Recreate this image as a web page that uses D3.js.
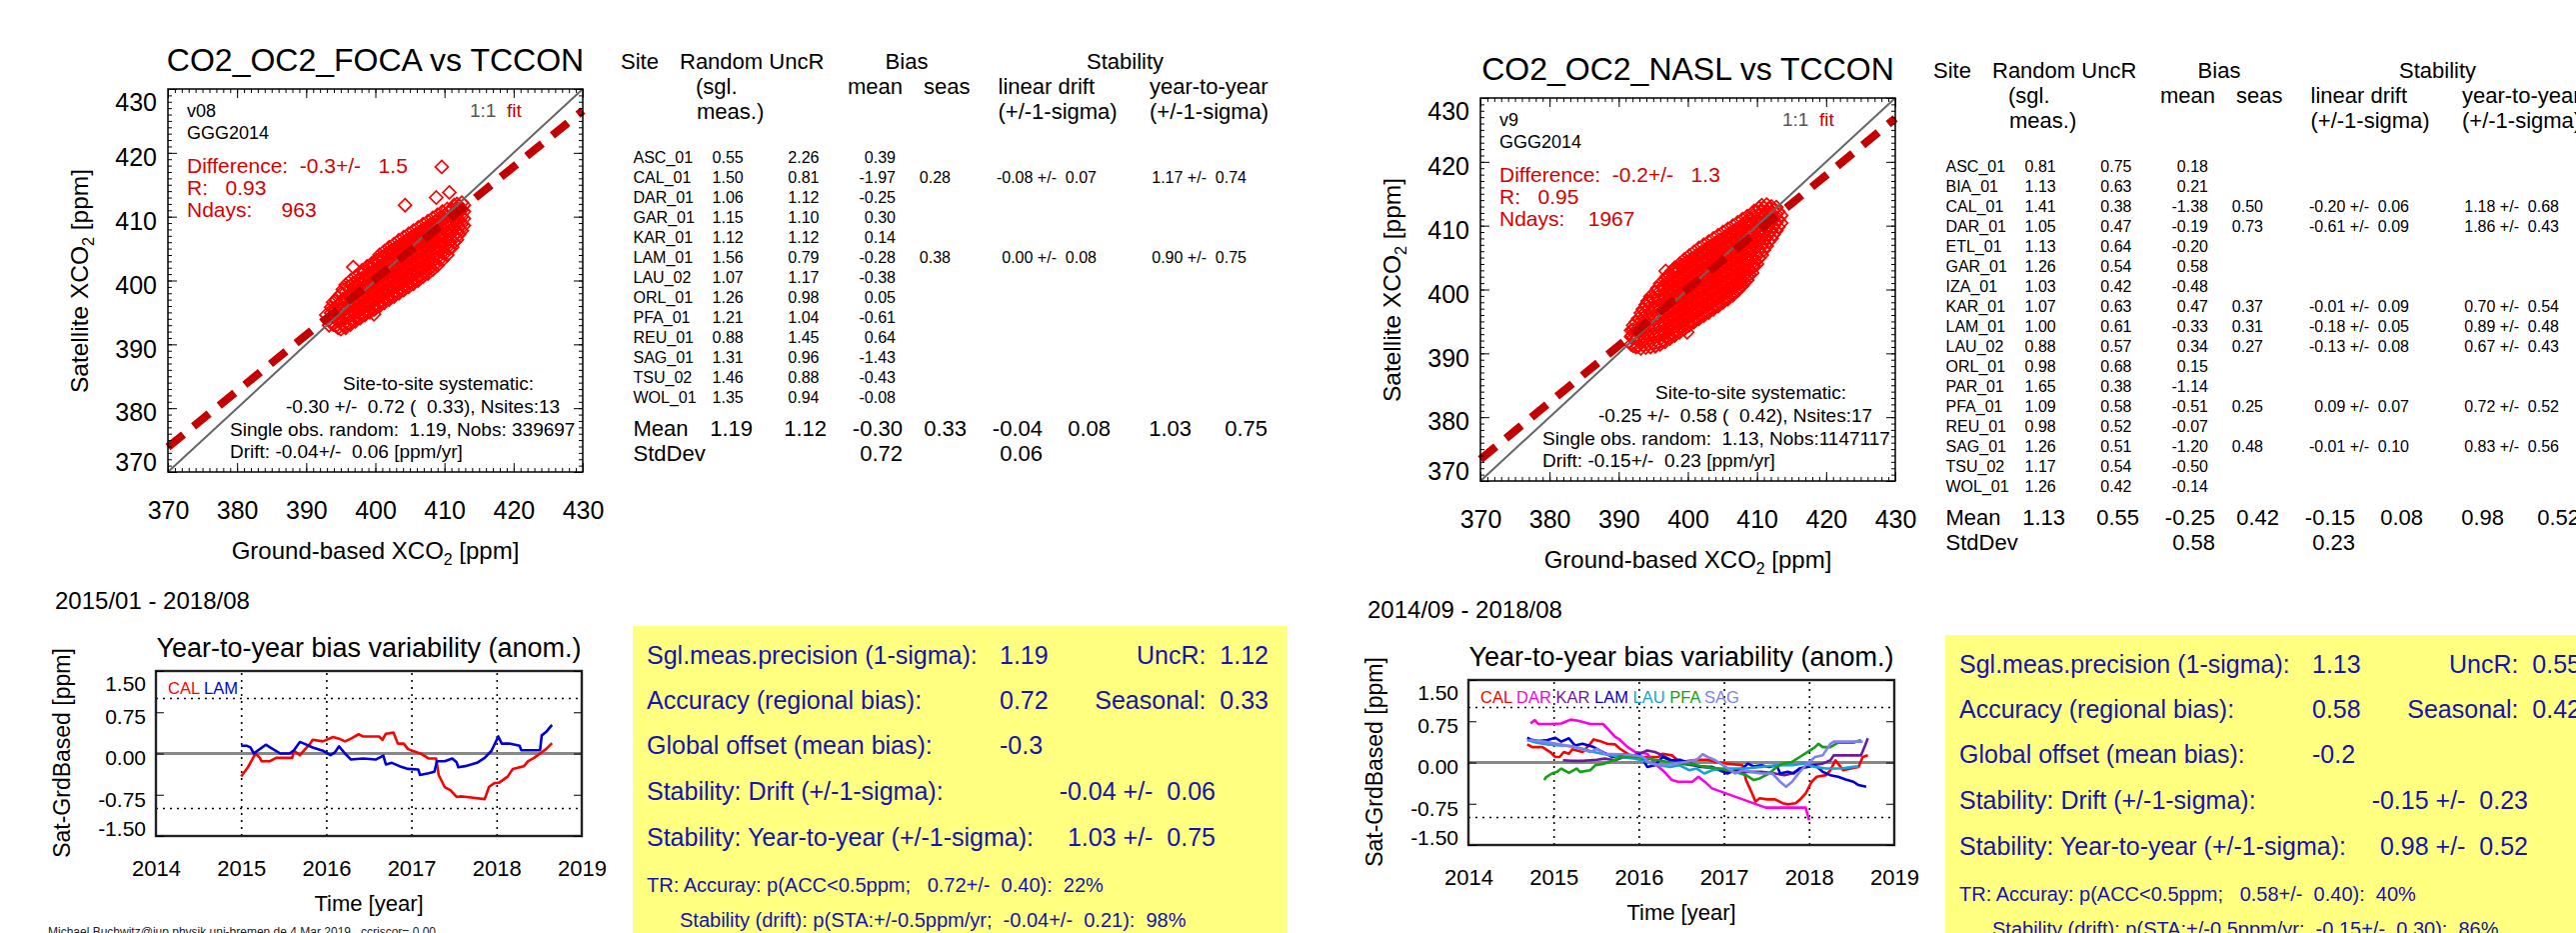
<!DOCTYPE html>
<html>
<head>
<meta charset="utf-8">
<script src="https://cdn.jsdelivr.net/npm/d3@7"></script>
<style>
  body { margin: 0; background: #fff; }
  svg text { font-family: "Liberation Sans", Arial, Helvetica, sans-serif; white-space: pre; }
</style>
</head>
<body>
<svg id="chart" width="2577" height="933"></svg>
<script>
// ---------- shared axis values ----------
const xcoTicks = [370, 380, 390, 400, 410, 420, 430];
const yearTicks = [2014, 2015, 2016, 2017, 2018, 2019];
const biasTicks = [-1.5, -0.75, 0, 0.75, 1.5];
const dottedLevels = [-1, 1];

// ---------- left page: CO2_OC2_FOCA ----------
const focaTitle = "CO2_OC2_FOCA vs TCCON";
const focaVersion = "v08";
const focaPeriod = "2015/01 - 2018/08";
// satellite vs ground XCO2: [ground, [satellite values]]
const focaCloud = [
  [393.6, [393.4, 394.9, 395.8]],
  [393.9, [393.1, 394.3, 395.6, 396.6]],
  [394.3, [392.9, 394.0, 395.4, 396.9]],
  [394.6, [392.6, 393.9, 394.9, 396.1, 397.4]],
  [395.0, [392.4, 393.6, 395.2, 396.6, 397.9]],
  [395.3, [393.0, 394.4, 395.7, 397.1, 398.6]],
  [395.7, [392.8, 394.1, 395.5, 396.9, 398.2, 399.3]],
  [396.0, [393.3, 394.8, 396.2, 397.6, 399.0]],
  [396.4, [393.1, 394.5, 395.9, 397.3, 398.6, 400.0]],
  [396.7, [393.8, 395.2, 396.6, 398.0, 399.5]],
  [397.1, [393.6, 394.9, 396.3, 397.8, 399.1, 400.6]],
  [397.4, [394.3, 395.7, 397.0, 398.5, 400.0]],
  [397.8, [394.1, 395.4, 396.8, 398.2, 399.6, 401.1]],
  [398.1, [394.8, 396.1, 397.5, 398.9, 400.4, 401.6]],
  [398.5, [394.6, 395.9, 397.3, 398.7, 400.1, 401.5]],
  [398.8, [395.2, 396.6, 398.0, 399.4, 400.8, 402.2]],
  [399.2, [395.0, 396.4, 397.8, 399.2, 400.6, 402.0]],
  [399.5, [395.7, 397.1, 398.5, 399.9, 401.3, 402.7]],
  [399.9, [395.5, 396.9, 398.3, 399.7, 401.1, 402.5]],
  [400.2, [396.2, 397.6, 399.0, 400.4, 401.8, 403.2]],
  [400.6, [396.0, 397.4, 398.8, 400.2, 401.6, 403.0, 404.0]],
  [400.9, [396.7, 398.1, 399.5, 400.9, 402.3, 403.7]],
  [401.3, [396.5, 397.9, 399.3, 400.7, 402.1, 403.5, 404.6]],
  [401.6, [397.2, 398.6, 400.0, 401.4, 402.8, 404.2]],
  [402.0, [397.0, 398.4, 399.8, 401.2, 402.6, 404.0, 405.2]],
  [402.3, [397.7, 399.1, 400.5, 401.9, 403.3, 404.7]],
  [402.7, [397.5, 398.9, 400.3, 401.7, 403.1, 404.5, 405.7]],
  [403.0, [398.2, 399.6, 401.0, 402.4, 403.8, 405.2]],
  [403.4, [398.0, 399.4, 400.8, 402.2, 403.6, 405.0, 406.3]],
  [403.7, [398.7, 400.1, 401.5, 402.9, 404.3, 405.7]],
  [404.1, [398.5, 399.9, 401.3, 402.7, 404.1, 405.5, 406.8]],
  [404.4, [399.2, 400.6, 402.0, 403.4, 404.8, 406.2]],
  [404.8, [399.0, 400.4, 401.8, 403.2, 404.6, 406.0, 407.3]],
  [405.1, [399.7, 401.1, 402.5, 403.9, 405.3, 406.7]],
  [405.5, [399.5, 400.9, 402.3, 403.7, 405.1, 406.5, 407.8]],
  [405.8, [400.2, 401.6, 403.0, 404.4, 405.8, 407.2]],
  [406.2, [400.0, 401.4, 402.8, 404.2, 405.6, 407.0, 408.3]],
  [406.5, [400.7, 402.1, 403.5, 404.9, 406.3, 407.7]],
  [406.9, [400.6, 401.9, 403.3, 404.7, 406.1, 407.5, 408.8]],
  [407.2, [401.3, 402.6, 404.0, 405.4, 406.8, 408.2]],
  [407.6, [401.1, 402.4, 403.8, 405.2, 406.6, 408.0, 409.3]],
  [407.9, [401.9, 403.1, 404.5, 405.9, 407.3, 408.7]],
  [408.3, [401.7, 403.0, 404.3, 405.7, 407.1, 408.5, 409.8]],
  [408.6, [402.5, 403.8, 405.0, 406.4, 407.8, 409.2]],
  [409.0, [402.4, 403.6, 404.9, 406.2, 407.6, 409.0, 410.3]],
  [409.3, [403.3, 404.5, 405.7, 407.0, 408.4, 409.8]],
  [409.7, [403.2, 404.4, 405.6, 406.9, 408.2, 409.5, 410.8]],
  [410.0, [404.2, 405.3, 406.5, 407.7, 408.9, 410.2]],
  [410.4, [404.0, 405.2, 406.4, 407.6, 408.8, 410.0, 411.2]],
  [410.7, [405.0, 406.1, 407.3, 408.5, 409.7, 410.9]],
  [411.1, [405.2, 406.3, 407.5, 408.7, 409.9, 411.1]],
  [411.4, [406.0, 407.1, 408.3, 409.5, 410.7, 411.8]],
  [411.8, [406.4, 407.5, 408.6, 409.8, 411.0, 412.0]],
  [412.1, [407.2, 408.3, 409.4, 410.6, 411.7]],
  [412.5, [407.8, 408.9, 410.0, 411.1, 412.2]],
  [412.8, [408.6, 409.7, 410.8, 411.8]]
];
const focaOutliers = [[409.6, 417.8], [410.7, 413.8], [408.8, 413.0], [404.3, 411.8], [396.8, 402.1],
                      [395.7, 392.6], [399.8, 394.7], [392.9, 394.6], [393.3, 393.0]];
const focaFit = [[370, 373.9], [430, 426.6]];
const focaStats = {diff: -0.3, diffSd: 1.5, r: 0.93, ndays: 963, siteBias: -0.30, siteSd: 0.72, siteSeas: 0.33,
                   nsites: 13, random: 1.19, nobs: 339697, drift: -0.04, driftErr: 0.06};

const focaSites  = ["ASC_01", "CAL_01", "DAR_01", "GAR_01", "KAR_01", "LAM_01", "LAU_02", "ORL_01", "PFA_01", "REU_01", "SAG_01", "TSU_02", "WOL_01"];
const focaRandom = [0.55, 1.50, 1.06, 1.15, 1.12, 1.56, 1.07, 1.26, 1.21, 0.88, 1.31, 1.46, 1.35];
const focaUncR   = [2.26, 0.81, 1.12, 1.10, 1.12, 0.79, 1.17, 0.98, 1.04, 1.45, 0.96, 0.88, 0.94];
const focaBias   = [0.39, -1.97, -0.25, 0.30, 0.14, -0.28, -0.38, 0.05, -0.61, 0.64, -1.43, -0.43, -0.08];
const focaSeas   = {CAL_01: 0.28, LAM_01: 0.38};
const focaDrift  = {CAL_01: [-0.08, 0.07], LAM_01: [0.00, 0.08]};
const focaY2Y    = {CAL_01: [1.17, 0.74], LAM_01: [0.90, 0.75]};
const focaMean   = [1.19, 1.12, -0.30, 0.33, -0.04, 0.08, 1.03, 0.75];
const focaStd    = [null, null, 0.72, null, 0.06, null, null, null];

const focaCal = [[2015.00,-0.42],[2015.08,-0.25],[2015.17,0.00],[2015.22,-0.08],[2015.24,-0.14],[2015.34,-0.14],[2015.41,-0.08],
  [2015.60,-0.08],[2015.62,0.05],[2015.69,-0.03],[2015.81,0.18],[2015.84,0.25],[2015.96,0.22],[2016.08,0.30],[2016.15,0.27],
  [2016.22,0.22],[2016.29,0.27],[2016.38,0.35],[2016.43,0.31],[2016.62,0.31],[2016.66,0.25],[2016.70,0.36],[2016.79,0.38],
  [2016.84,0.18],[2016.91,0.18],[2016.96,0.08],[2017.12,-0.01],[2017.20,-0.09],[2017.29,-0.09],[2017.32,-0.39],[2017.39,-0.61],
  [2017.46,-0.67],[2017.53,-0.79],[2017.58,-0.78],[2017.65,-0.79],[2017.86,-0.83],[2017.91,-0.61],[2017.97,-0.54],[2018.03,-0.53],
  [2018.13,-0.42],[2018.19,-0.28],[2018.32,-0.23],[2018.37,-0.14],[2018.44,-0.08],[2018.51,0.00],[2018.58,0.08],[2018.65,0.19]];
const focaLam = [[2015.00,0.14],[2015.07,0.14],[2015.11,0.11],[2015.15,0.00],[2015.29,0.16],[2015.34,0.11],[2015.46,0.00],
  [2015.57,0.00],[2015.62,0.06],[2015.69,0.21],[2015.74,0.18],[2015.84,0.11],[2015.96,0.05],[2016.05,-0.03],[2016.10,0.02],
  [2016.15,0.13],[2016.22,0.00],[2016.29,-0.11],[2016.43,-0.09],[2016.58,-0.11],[2016.67,-0.04],[2016.70,-0.20],[2016.77,-0.17],
  [2016.86,-0.23],[2016.96,-0.28],[2017.08,-0.29],[2017.10,-0.39],[2017.20,-0.36],[2017.27,-0.33],[2017.30,-0.14],[2017.39,-0.14],
  [2017.48,-0.09],[2017.53,-0.16],[2017.55,-0.25],[2017.63,-0.23],[2017.77,-0.17],[2017.86,-0.08],[2017.94,0.05],[2018.02,0.31],
  [2018.06,0.18],[2018.15,0.18],[2018.27,0.14],[2018.29,0.06],[2018.51,0.06],[2018.53,0.33],[2018.58,0.39],[2018.65,0.52]];

const focaSummary = {precision: 1.19, uncR: 1.12, accuracy: 0.72, seasonal: 0.33, offset: -0.3,
                     drift: [-0.04, 0.06], y2y: [1.03, 0.75]};
const focaTR = {acc: [0.72, 0.40, 22], sta: [-0.04, 0.21, 98]};

// ---------- right page: CO2_OC2_NASL ----------
const naslTitle = "CO2_OC2_NASL vs TCCON";
const naslVersion = "v9";
const naslPeriod = "2014/09 - 2018/08";
const naslCloud = [
  [391.8, [391.4, 392.6, 393.6]],
  [392.1, [391.2, 392.4, 393.7, 394.4]],
  [392.5, [391.0, 392.3, 393.6, 394.9]],
  [392.8, [391.1, 392.5, 393.9, 395.4]],
  [393.2, [390.8, 392.2, 393.6, 395.0, 396.3]],
  [393.5, [391.3, 392.7, 394.1, 395.5, 396.9]],
  [393.9, [390.9, 392.3, 393.7, 395.1, 396.5, 397.6]],
  [394.2, [391.4, 392.8, 394.2, 395.6, 397.0, 398.2]],
  [394.6, [391.0, 392.4, 393.8, 395.2, 396.6, 398.0, 398.9]],
  [394.9, [391.6, 393.0, 394.4, 395.8, 397.2, 398.6]],
  [395.3, [391.2, 392.6, 394.0, 395.4, 396.8, 398.2, 399.6]],
  [395.6, [391.8, 393.2, 394.6, 396.0, 397.4, 398.8, 400.2]],
  [396.0, [391.4, 392.8, 394.2, 395.6, 397.0, 398.4, 399.8, 400.9]],
  [396.3, [392.0, 393.4, 394.8, 396.2, 397.6, 399.0, 400.4]],
  [396.7, [391.8, 393.2, 394.6, 396.0, 397.4, 398.8, 400.2, 401.6]],
  [397.0, [392.5, 393.9, 395.3, 396.7, 398.1, 399.5, 400.9, 402.1]],
  [397.4, [392.3, 393.7, 395.1, 396.5, 397.9, 399.3, 400.7, 402.1]],
  [397.7, [393.0, 394.4, 395.8, 397.2, 398.6, 400.0, 401.4, 402.9]],
  [398.1, [392.8, 394.2, 395.6, 397.0, 398.4, 399.8, 401.2, 402.6, 403.4]],
  [398.4, [393.5, 394.9, 396.3, 397.7, 399.1, 400.5, 401.9, 403.3]],
  [398.8, [393.3, 394.7, 396.1, 397.5, 398.9, 400.3, 401.7, 403.1, 404.0]],
  [399.1, [394.0, 395.4, 396.8, 398.2, 399.6, 401.0, 402.4, 403.8]],
  [399.5, [393.8, 395.2, 396.6, 398.0, 399.4, 400.8, 402.2, 403.6, 404.7]],
  [399.8, [394.5, 395.9, 397.3, 398.7, 400.1, 401.5, 402.9, 404.3]],
  [400.2, [394.4, 395.7, 397.1, 398.5, 399.9, 401.3, 402.7, 404.1, 405.3]],
  [400.5, [395.0, 396.4, 397.8, 399.2, 400.6, 402.0, 403.4, 404.8]],
  [400.9, [394.9, 396.2, 397.6, 399.0, 400.4, 401.8, 403.2, 404.6, 405.9]],
  [401.2, [395.5, 396.9, 398.3, 399.7, 401.1, 402.5, 403.9, 405.3]],
  [401.6, [395.4, 396.7, 398.1, 399.5, 400.9, 402.3, 403.7, 405.1, 406.5]],
  [401.9, [396.0, 397.4, 398.8, 400.2, 401.6, 403.0, 404.4, 405.8]],
  [402.3, [395.9, 397.2, 398.6, 400.0, 401.4, 402.8, 404.2, 405.6, 407.0]],
  [402.6, [396.5, 397.9, 399.3, 400.7, 402.1, 403.5, 404.9, 406.3]],
  [403.0, [396.4, 397.7, 399.1, 400.5, 401.9, 403.3, 404.7, 406.1, 407.5]],
  [403.3, [397.0, 398.4, 399.8, 401.2, 402.6, 404.0, 405.4, 406.8]],
  [403.7, [396.9, 398.2, 399.6, 401.0, 402.4, 403.8, 405.2, 406.6, 408.0]],
  [404.0, [397.5, 398.9, 400.3, 401.7, 403.1, 404.5, 405.9, 407.3]],
  [404.4, [397.4, 398.7, 400.1, 401.5, 402.9, 404.3, 405.7, 407.1, 408.5]],
  [404.7, [398.0, 399.4, 400.8, 402.2, 403.6, 405.0, 406.4, 407.8]],
  [405.1, [398.0, 399.2, 400.6, 402.0, 403.4, 404.8, 406.2, 407.6, 409.0]],
  [405.4, [398.6, 399.9, 401.3, 402.7, 404.1, 405.5, 406.9, 408.3]],
  [405.8, [398.5, 399.7, 401.1, 402.5, 403.9, 405.3, 406.7, 408.1, 409.5]],
  [406.1, [399.1, 400.4, 401.8, 403.2, 404.6, 406.0, 407.4, 408.8]],
  [406.5, [399.1, 400.2, 401.6, 403.0, 404.4, 405.8, 407.2, 408.6, 410.0]],
  [406.8, [399.7, 400.9, 402.3, 403.7, 405.1, 406.5, 407.9, 409.3]],
  [407.2, [399.8, 400.8, 402.1, 403.5, 404.9, 406.3, 407.7, 409.1, 410.5]],
  [407.5, [400.4, 401.5, 402.8, 404.2, 405.6, 407.0, 408.4, 409.8]],
  [407.9, [400.6, 401.4, 402.6, 404.0, 405.4, 406.8, 408.2, 409.6, 411.0]],
  [408.2, [401.2, 402.2, 403.4, 404.8, 406.2, 407.6, 409.0, 410.4]],
  [408.6, [401.5, 402.1, 403.2, 404.6, 406.0, 407.4, 408.8, 410.2, 411.5]],
  [408.9, [402.4, 403.0, 404.2, 405.5, 406.9, 408.3, 409.7, 411.0]],
  [409.3, [402.6, 403.6, 404.9, 406.3, 407.7, 409.1, 410.5, 411.9]],
  [409.6, [403.6, 404.4, 405.7, 407.1, 408.5, 409.9, 411.3, 412.3]],
  [410.0, [404.0, 405.3, 406.7, 408.1, 409.5, 410.9, 412.2]],
  [410.3, [404.9, 406.0, 407.4, 408.8, 410.2, 411.6, 412.8]],
  [410.7, [405.4, 406.8, 408.2, 409.6, 411.0, 412.3, 413.2]],
  [411.0, [406.2, 407.4, 408.8, 410.2, 411.6, 412.8]],
  [411.4, [406.8, 408.1, 409.5, 410.9, 412.2, 413.3]],
  [411.7, [407.5, 408.7, 410.1, 411.5, 412.7]],
  [412.1, [408.0, 409.3, 410.7, 412.0, 413.0]],
  [412.4, [408.6, 409.9, 411.3, 412.5]],
  [412.8, [409.2, 410.5, 411.8, 412.9]],
  [413.1, [409.8, 411.0, 412.2]],
  [413.5, [410.4, 411.6]]
];
const naslOutliers = [[394.2, 398.1], [396.8, 402.9], [399.9, 393.3], [391.9, 392.8], [395.3, 391.1]];
const naslFit = [[370, 373.4], [430, 426.8]];
const naslStats = {diff: -0.2, diffSd: 1.3, r: 0.95, ndays: 1967, siteBias: -0.25, siteSd: 0.58, siteSeas: 0.42,
                   nsites: 17, random: 1.13, nobs: 1147117, drift: -0.15, driftErr: 0.23};

const naslSites  = ["ASC_01", "BIA_01", "CAL_01", "DAR_01", "ETL_01", "GAR_01", "IZA_01", "KAR_01", "LAM_01",
                    "LAU_02", "ORL_01", "PAR_01", "PFA_01", "REU_01", "SAG_01", "TSU_02", "WOL_01"];
const naslRandom = [0.81, 1.13, 1.41, 1.05, 1.13, 1.26, 1.03, 1.07, 1.00, 0.88, 0.98, 1.65, 1.09, 0.98, 1.26, 1.17, 1.26];
const naslUncR   = [0.75, 0.63, 0.38, 0.47, 0.64, 0.54, 0.42, 0.63, 0.61, 0.57, 0.68, 0.38, 0.58, 0.52, 0.51, 0.54, 0.42];
const naslBias   = [0.18, 0.21, -1.38, -0.19, -0.20, 0.58, -0.48, 0.47, -0.33, 0.34, 0.15, -1.14, -0.51, -0.07, -1.20, -0.50, -0.14];
const naslSeas   = {CAL_01: 0.50, DAR_01: 0.73, KAR_01: 0.37, LAM_01: 0.31, LAU_02: 0.27, PFA_01: 0.25, SAG_01: 0.48};
const naslDrift  = {CAL_01: [-0.20, 0.06], DAR_01: [-0.61, 0.09], KAR_01: [-0.01, 0.09], LAM_01: [-0.18, 0.05],
                    LAU_02: [-0.13, 0.08], PFA_01: [0.09, 0.07], SAG_01: [-0.01, 0.10]};
const naslY2Y    = {CAL_01: [1.18, 0.68], DAR_01: [1.86, 0.43], KAR_01: [0.70, 0.54], LAM_01: [0.89, 0.48],
                    LAU_02: [0.67, 0.43], PFA_01: [0.72, 0.52], SAG_01: [0.83, 0.56]};
const naslMean   = [1.13, 0.55, -0.25, 0.42, -0.15, 0.08, 0.98, 0.52];
const naslStd    = [null, null, 0.58, null, 0.23, null, null, null];

const naslCal = [[2014.69,0.33],[2014.75,0.28],[2014.87,0.28],[2014.96,0.19],[2015.02,0.10],[2015.07,0.10],[2015.12,0.19],
  [2015.18,0.16],[2015.22,0.24],[2015.34,0.19],[2015.43,0.34],[2015.47,0.42],[2015.56,0.38],[2015.63,0.34],[2015.72,0.33],
  [2015.78,0.25],[2015.90,0.13],[2015.96,0.10],[2016.10,0.10],[2016.23,0.10],[2016.28,0.16],[2016.39,0.13],[2016.48,0.01],
  [2016.68,0.05],[2016.81,0.05],[2016.90,0.01],[2017.04,-0.02],[2017.22,-0.05],[2017.26,-0.32],[2017.33,-0.56],[2017.37,-0.71],
  [2017.42,-0.65],[2017.51,-0.67],[2017.60,-0.67],[2017.69,-0.74],[2017.75,-0.76],[2017.84,-0.74],[2017.89,-0.68],[2017.96,-0.56],
  [2018.03,-0.35],[2018.09,-0.26],[2018.20,-0.23],[2018.25,-0.14],[2018.31,0.04],[2018.34,-0.02],[2018.40,-0.14],[2018.49,-0.11],
  [2018.58,-0.08],[2018.63,0.10],[2018.69,0.13]];
const naslDar = [[2014.73,0.71],[2014.78,0.77],[2014.82,0.70],[2014.96,0.70],[2015.09,0.71],[2015.20,0.78],[2015.29,0.76],
  [2015.43,0.70],[2015.58,0.70],[2015.65,0.59],[2015.72,0.47],[2015.78,0.41],[2015.87,0.28],[2015.96,0.19],[2016.10,0.16],
  [2016.21,-0.05],[2016.30,-0.17],[2016.39,-0.32],[2016.46,-0.35],[2016.63,-0.35],[2016.70,-0.26],[2016.79,-0.37],[2016.86,-0.47],
  [2017.49,-0.82],[2017.53,-0.82],[2017.96,-0.82],[2018.00,-1.05]];
const naslKar = [[2015.11,0.04],[2015.22,0.03],[2015.34,0.03],[2015.51,0.05],[2015.60,0.07],[2015.72,0.04],[2015.81,0.09],
  [2015.92,0.10],[2016.01,0.16],[2016.10,0.22],[2016.19,0.19],[2016.28,0.13],[2016.37,0.05],[2016.50,-0.02],[2016.63,-0.05],
  [2016.77,-0.08],[2016.90,-0.11],[2017.04,-0.15],[2017.17,-0.17],[2017.31,-0.17],[2017.44,-0.17],[2017.57,-0.19],[2017.71,-0.23],
  [2017.80,-0.20],[2017.89,-0.11],[2018.02,-0.05],[2018.16,-0.02],[2018.25,0.04],[2018.29,0.13],[2018.61,0.13],[2018.65,0.28],
  [2018.69,0.44]];
const naslLam = [[2014.69,0.45],[2014.73,0.42],[2014.82,0.39],[2014.93,0.41],[2015.02,0.45],[2015.09,0.38],[2015.18,0.44],
  [2015.25,0.31],[2015.34,0.34],[2015.47,0.28],[2015.58,0.19],[2015.69,0.10],[2015.83,0.15],[2015.92,0.11],[2015.99,0.16],
  [2016.03,0.10],[2016.10,-0.08],[2016.19,-0.05],[2016.28,0.10],[2016.37,0.04],[2016.48,0.05],[2016.61,-0.02],[2016.72,-0.08],
  [2016.86,-0.08],[2016.95,-0.14],[2017.04,-0.20],[2017.13,-0.14],[2017.22,-0.11],[2017.28,-0.02],[2017.35,-0.07],[2017.44,-0.05],
  [2017.53,-0.08],[2017.62,-0.05],[2017.66,-0.20],[2017.75,-0.17],[2017.82,-0.20],[2017.89,-0.11],[2017.98,-0.08],[2018.07,-0.05],
  [2018.16,-0.17],[2018.25,-0.23],[2018.34,-0.26],[2018.43,-0.31],[2018.52,-0.35],[2018.58,-0.41],[2018.67,-0.44]];
const naslLau = [[2014.69,0.41],[2014.80,0.36],[2014.93,0.33],[2015.07,0.31],[2015.20,0.30],[2015.34,0.25],[2015.47,0.19],
  [2015.60,0.15],[2015.78,0.10],[2015.96,0.07],[2016.10,0.01],[2016.23,-0.05],[2016.37,-0.08],[2016.48,-0.05],[2016.59,-0.14],
  [2016.68,-0.11],[2016.77,-0.20],[2016.86,-0.14],[2016.99,-0.11],[2017.13,-0.11],[2017.26,-0.11],[2017.44,-0.08],[2017.62,-0.05],
  [2017.80,-0.05],[2017.93,-0.02],[2018.07,-0.08],[2018.20,-0.11],[2018.38,-0.11],[2018.52,-0.08],[2018.58,-0.07]];
const naslPfa = [[2014.89,-0.32],[2014.91,-0.27],[2014.98,-0.20],[2015.04,-0.17],[2015.09,-0.11],[2015.18,-0.19],[2015.27,-0.11],
  [2015.31,-0.17],[2015.43,-0.14],[2015.49,-0.05],[2015.60,-0.02],[2015.72,0.05],[2015.78,0.10],[2015.96,0.10],[2016.10,0.07],
  [2016.23,0.04],[2016.41,-0.01],[2016.59,-0.02],[2016.77,-0.08],[2016.95,-0.11],[2017.13,-0.17],[2017.26,-0.23],[2017.35,-0.32],
  [2017.42,-0.29],[2017.53,-0.20],[2017.62,-0.08],[2017.69,-0.02],[2017.80,0.01],[2017.89,0.10],[2017.98,0.19],[2018.07,0.28],
  [2018.11,0.34],[2018.16,0.28],[2018.25,0.28],[2018.34,0.36],[2018.43,0.36],[2018.52,0.36],[2018.61,0.41]];
const naslSag = [[2014.71,0.41],[2014.89,0.38],[2015.07,0.33],[2015.25,0.28],[2015.43,0.19],[2015.51,0.25],[2015.60,0.16],
  [2015.78,0.15],[2015.96,0.13],[2016.05,0.10],[2016.14,-0.02],[2016.28,-0.05],[2016.41,-0.02],[2016.55,0.01],[2016.68,0.05],
  [2016.75,0.15],[2016.81,0.10],[2016.90,0.04],[2017.02,-0.08],[2017.13,-0.20],[2017.22,-0.14],[2017.31,-0.17],[2017.44,-0.20],
  [2017.57,-0.20],[2017.66,-0.35],[2017.73,-0.44],[2017.80,-0.35],[2017.89,-0.17],[2017.98,-0.02],[2018.07,0.10],[2018.16,0.13],
  [2018.25,0.34],[2018.29,0.38],[2018.56,0.38],[2018.63,0.38]];

const naslSummary = {precision: 1.13, uncR: 0.55, accuracy: 0.58, seasonal: 0.42, offset: -0.2,
                     drift: [-0.15, 0.23], y2y: [0.98, 0.52]};
const naslTR = {acc: [0.58, 0.40, 40], sta: [-0.15, 0.30, 86]};

const footerText = "Michael.Buchwitz@iup.physik.uni-bremen.de 4 Mar 2019 , ccriscor= 0.00";

// ---------- styles ----------
const siteColor = {CAL: "#ff0000", DAR: "#ff00e0", KAR: "#6a1b9a", LAM: "#0000d8",
                   LAU: "#1aa0d8", PFA: "#14a014", SAG: "#8080f0"};
const RED = "#d80000", FITRED = "#c40000", BLUE = "#1414b0";

const fmt = d3.formatLocale({decimal: ".", thousands: ",", grouping: [3], currency: ["", ""], minus: "-"}).format;
const f1 = fmt(".1f"), f2 = fmt(".2f");
const pm = d => `${f2(d[0])} +/-  ${f2(d[1])}`;

const svg = d3.select("#chart");
svg.append("rect").attr("width", 2577).attr("height", 933).attr("fill", "#fff");

function label(g, x, y, size, txt, anchor) {
    return g.append("text")
        .attr("x", x).attr("y", y)
        .attr("font-size", size)
        .attr("text-anchor", anchor || "start")
        .text(txt);
}

function subLabel(g, size, pre, sub, post) {
    const t = g.append("text").attr("font-size", size).attr("text-anchor", "middle");
    t.append("tspan").text(pre);
    t.append("tspan").attr("font-size", size * 0.66).attr("dy", size * 0.25).text(sub);
    t.append("tspan").attr("dy", -size * 0.25).text(post);
    return t;
}

function noDomain(s) { s.select(".domain").remove(); }

function drawScatter(g, p)
{
    const x0 = 168, x1 = 583, y0 = 89, y1 = 472;
    const dom = d3.extent(xcoTicks);
    const x = d3.scaleLinear().domain(dom).range([x0, x1]);
    const y = d3.scaleLinear().domain(dom).range([y1, y0]);

    label(g, (x0 + x1) / 2, 70.5, 32, p.title, "middle");

    let pts = p.cloud.flatMap(([gx, sats]) => sats.map(s => [gx, s])).concat(p.outliers);
    g.append("g").selectAll("path").data(pts).join("path")
        .attr("transform", d => `translate(${x(d[0])},${y(d[1])})`)
        .attr("d", "M0,-6.5L6.5,0L0,6.5L-6.5,0Z")
        .attr("fill", "none").attr("stroke", "#ff0000").attr("stroke-width", 1.7);

    g.append("line")
        .attr("x1", x(dom[0])).attr("y1", y(dom[0]))
        .attr("x2", x(dom[1])).attr("y2", y(dom[1]))
        .attr("stroke", "#666").attr("stroke-width", 2);
    g.append("path")
        .attr("d", d3.line().x(d => x(d[0])).y(d => y(d[1]))(p.fit))
        .attr("fill", "none").attr("stroke", FITRED)
        .attr("stroke-width", 8).attr("stroke-dasharray", "20,13");

    g.append("rect").attr("x", x0).attr("y", y0).attr("width", x1 - x0).attr("height", y1 - y0)
        .attr("fill", "none").attr("stroke", "#000").attr("stroke-width", 1.5);

    // inward ticks on all four sides, minor every 1 ppm
    const minor = d3.range(dom[0], dom[1] + 1, 1);
    [[d3.axisBottom(x), 0, y1], [d3.axisTop(x), 0, y0], [d3.axisLeft(y), x0, 0], [d3.axisRight(y), x1, 0]]
        .forEach(([ax, tx, ty]) => {
            [[minor, 4], [xcoTicks, 9]].forEach(([vals, len]) => {
                g.append("g").attr("transform", `translate(${tx},${ty})`)
                    .call(ax.tickValues(vals).tickSize(-len).tickFormat(""))
                    .call(noDomain);
            });
        });

    g.append("g").attr("transform", `translate(0,${y1})`)
        .call(d3.axisBottom(x).tickValues(xcoTicks).tickSize(0).tickPadding(29))
        .call(noDomain)
        .attr("font-size", 25).attr("font-family", null);
    let yl = g.append("g").attr("transform", `translate(${x0},0)`)
        .call(d3.axisLeft(y).tickValues(xcoTicks).tickSize(0).tickPadding(11))
        .call(noDomain)
        .attr("font-size", 25).attr("font-family", null);
    yl.selectAll("text")
        .attr("y", d => Math.min(Math.max(y(d) + 4, y0 + 13), y1 - 10) - y(d))
        .attr("dy", "0.35em");

    subLabel(g, 24, "Ground-based XCO", "2", " [ppm]").attr("x", (x0 + x1) / 2).attr("y", 558.6);
    subLabel(g, 24.5, "Satellite XCO", "2", " [ppm]")
        .attr("transform", "translate(88,281) rotate(-90)");

    // annotations inside the frame
    const s = p.stats;
    label(g, 187, 117, 18, p.version);
    label(g, 187, 139, 18, "GGG2014");
    let ff = label(g, 470, 117, 19, "1:1  ").attr("fill", "#555");
    ff.append("tspan").attr("fill", FITRED).text("fit");
    label(g, 187, 172.5, 21, `Difference:  ${f1(s.diff)}+/-   ${f1(s.diffSd)}`).attr("fill", RED);
    label(g, 187, 194.7, 21, `R:   ${f2(s.r)}`).attr("fill", RED);
    label(g, 187, 217, 21, `Ndays:  ${String(s.ndays).padStart(6)}`).attr("fill", RED);
    label(g, 343, 390, 19, "Site-to-site systematic:");
    label(g, 286, 413.4, 19, `${f2(s.siteBias)} +/-  ${f2(s.siteSd)} (  ${f2(s.siteSeas)}), Nsites:${s.nsites}`);
    label(g, 230, 436, 19, `Single obs. random:  ${f2(s.random)}, Nobs:${String(s.nobs).padStart(7)}`);
    label(g, 230, 458.4, 19, `Drift: ${f2(s.drift)}+/-  ${f2(s.driftErr)} [ppm/yr]`);
}

function drawTable(g, p)
{
    const head = g.append("g");
    [["Site", 621, 68.7], ["Random UncR", 680, 68.7], ["Bias", 885.6, 68.7], ["Stability", 1087, 68.7],
     ["(sgl.", 696, 93.7], ["mean", 848, 93.7], ["seas", 924, 93.7], ["linear drift", 998.5, 93.7], ["year-to-year", 1150, 93.7],
     ["meas.)", 697, 118.7], ["(+/-1-sigma)", 998.5, 118.7], ["(+/-1-sigma)", 1150, 118.7]]
        .forEach(([t, x, y]) => label(head, x, y, 22, t));

    const colRight = [743.7, 819.5, 896, 951, 1097, 1247];
    const rowY = i => 162.8 + i * 20;
    const body = g.append("g");
    p.sites.forEach((site, i) => {
        const cells = [f2(p.random[i]), f2(p.uncR[i]), f2(p.bias[i]),
                       site in p.seas ? f2(p.seas[site]) : "",
                       site in p.drift ? pm(p.drift[site]) : "",
                       site in p.y2y ? pm(p.y2y[site]) : ""];
        label(body, 633.5, rowY(i), 16, site);
        cells.forEach((c, j) => { if (c) label(body, colRight[j], rowY(i), 16, c, "end"); });
    });

    const meanY = rowY(p.sites.length - 1) + 33.6;
    const meanRight = [753, 827, 903, 967, 1043, 1111, 1192, 1268];
    label(body, 633.5, meanY, 22, "Mean");
    label(body, 633.5, meanY + 24.3, 22, "StdDev");
    p.mean.forEach((v, j) => label(body, meanRight[j], meanY, 22, f2(v), "end"));
    p.std.forEach((v, j) => { if (v !== null) label(body, meanRight[j], meanY + 24.3, 22, f2(v), "end"); });
}

function drawBias(g, p)
{
    const x0 = 156, x1 = 582, y0 = 671, y1 = 836;
    const x = d3.scaleLinear().domain(d3.extent(yearTicks)).range([x0, x1]);
    const y = d3.scaleLinear().domain(d3.extent(biasTicks)).range([y1, y0]);

    label(g, 55, 609, 24, p.period);
    label(g, (x0 + x1) / 2, 657, 27, "Year-to-year bias variability (anom.)", "middle");

    g.append("g").attr("transform", `translate(0,${y1})`)
        .call(d3.axisBottom(x).tickValues(yearTicks.slice(1, -1)).tickSize(-(y1 - y0)).tickFormat(""))
        .call(noDomain)
        .selectAll("line").attr("stroke-dasharray", "2,5").attr("stroke-width", 1.6);
    g.append("g").selectAll("line").data(dottedLevels).join("line")
        .attr("x1", x0).attr("x2", x1)
        .attr("y1", d => y(d)).attr("y2", d => y(d))
        .attr("stroke", "#000").attr("stroke-width", 1.6).attr("stroke-dasharray", "2,5");
    g.append("line").attr("x1", x0).attr("x2", x1).attr("y1", y(0)).attr("y2", y(0))
        .attr("stroke", "#888").attr("stroke-width", 3);

    const line = d3.line().x(d => x(d[0])).y(d => y(d[1]));
    g.append("g").selectAll("path").data(p.series).join("path")
        .attr("d", d => line(d.values))
        .attr("fill", "none").attr("stroke", d => siteColor[d.site])
        .attr("stroke-width", 2.6).attr("stroke-linejoin", "round");

    g.append("rect").attr("x", x0).attr("y", y0).attr("width", x1 - x0).attr("height", y1 - y0)
        .attr("fill", "none").attr("stroke", "#222").attr("stroke-width", 2.4);
    [[d3.axisLeft(y), x0], [d3.axisRight(y), x1]].forEach(([ax, tx]) => {
        g.append("g").attr("transform", `translate(${tx},0)`)
            .call(ax.tickValues(biasTicks).tickSize(-8).tickFormat(""))
            .call(noDomain);
    });

    g.append("g").attr("transform", `translate(0,${y1})`)
        .call(d3.axisBottom(x).tickValues(yearTicks).tickSize(0).tickPadding(24.6).tickFormat(d3.format("d")))
        .call(noDomain)
        .attr("font-size", 22).attr("font-family", null);
    let yl = g.append("g").attr("transform", `translate(${x0},0)`)
        .call(d3.axisLeft(y).tickValues(biasTicks).tickSize(0).tickPadding(10).tickFormat(f2))
        .call(noDomain)
        .attr("font-size", 21).attr("font-family", null);
    yl.selectAll("text")
        .attr("y", d => Math.min(Math.max(y(d) + 4, y0 + 12), y1 - 8) - y(d))
        .attr("dy", "0.35em");

    const lg = g.append("text").attr("x", x0 + 12).attr("y", 694).attr("font-size", 16.5);
    p.series.forEach((s, i) => lg.append("tspan").attr("fill", siteColor[s.site]).text((i ? " " : "") + s.site));

    label(g, (x0 + x1) / 2, 911, 22, "Time [year]", "middle");
    label(g, 0, 0, 23, "Sat-GrdBased [ppm]", "middle")
        .attr("transform", "translate(70,753) rotate(-90)");
}

function drawSummary(g, p)
{
    g.append("rect").attr("x", 633).attr("y", 626).attr("width", 655).attr("height", 320).attr("fill", "#ffff80");
    const s = p.summary, tr = p.tr;
    const t = (x, y, size, txt, anchor) => label(g, x, y, size, txt, anchor).attr("fill", BLUE);
    t(647, 664, 25, "Sgl.meas.precision (1-sigma):");
    t(1000, 664, 25, f2(s.precision));
    t(1269, 664, 25, `UncR:  ${f2(s.uncR)}`, "end");
    t(647, 709, 25, "Accuracy (regional bias):");
    t(1000, 709, 25, f2(s.accuracy));
    t(1269, 709, 25, `Seasonal:  ${f2(s.seasonal)}`, "end");
    t(647, 754, 25, "Global offset (mean bias):");
    t(1000, 754, 25, f1(s.offset));
    t(647, 799.5, 25, "Stability: Drift (+/-1-sigma):");
    t(1216, 799.5, 25, pm(s.drift), "end");
    t(647, 845.5, 25, "Stability: Year-to-year (+/-1-sigma):");
    t(1216, 845.5, 25, pm(s.y2y), "end");
    t(647, 892, 20, `TR: Accuray: p(ACC<0.5ppm;   ${f2(tr.acc[0])}+/-  ${f2(tr.acc[1])}):  ${tr.acc[2]}%`);
    t(680, 927, 20, `Stability (drift): p(STA:+/-0.5ppm/yr;  ${f2(tr.sta[0])}+/-  ${f2(tr.sta[1])}):  ${tr.sta[2]}%`);
}

const panels = [
    {dx: 0, dy: 0, title: focaTitle, version: focaVersion, period: focaPeriod,
     cloud: focaCloud, outliers: focaOutliers, fit: focaFit, stats: focaStats,
     sites: focaSites, random: focaRandom, uncR: focaUncR, bias: focaBias, seas: focaSeas,
     drift: focaDrift, y2y: focaY2Y, mean: focaMean, std: focaStd,
     series: [{site: "CAL", values: focaCal}, {site: "LAM", values: focaLam}],
     summary: focaSummary, tr: focaTR},
    {dx: 1313, dy: 9, title: naslTitle, version: naslVersion, period: naslPeriod,
     cloud: naslCloud, outliers: naslOutliers, fit: naslFit, stats: naslStats,
     sites: naslSites, random: naslRandom, uncR: naslUncR, bias: naslBias, seas: naslSeas,
     drift: naslDrift, y2y: naslY2Y, mean: naslMean, std: naslStd,
     series: [{site: "CAL", values: naslCal}, {site: "DAR", values: naslDar}, {site: "KAR", values: naslKar},
              {site: "LAM", values: naslLam}, {site: "LAU", values: naslLau}, {site: "PFA", values: naslPfa},
              {site: "SAG", values: naslSag}],
     summary: naslSummary, tr: naslTR}
];

panels.forEach(p => {
    const g = svg.append("g").attr("transform", `translate(${p.dx},${p.dy})`);
    drawScatter(g, p);
    drawTable(g, p);
    drawSummary(g, p);
    drawBias(g, p);
    label(g, 48, 936, 12, footerText).attr("fill", "#222");
});
</script>
</body>
</html>
